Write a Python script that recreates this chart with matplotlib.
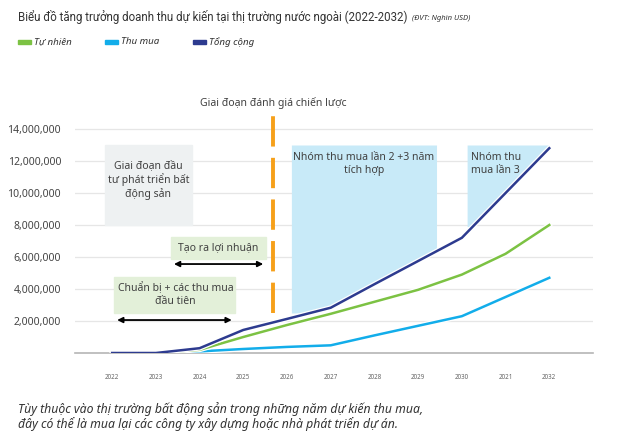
import matplotlib
matplotlib.use("Agg")
import matplotlib.pyplot as plt
import matplotlib.patheffects as pe
import numpy as np

plt.rcParams['font.family'] = ['Noto Sans', 'DejaVu Sans']

# du lieu (don vi: USD)
years = [2022, 2023, 2024, 2025, 2026, 2027, 2028, 2029, 2030, 2031, 2032]
year_labels = ['2022', '2023', '2024', '2025', '2026', '2027', '2028', '2029', '2030', '2021', '2032']
tu_nhien = [0, 0, 200000, 1000000, 1750000, 2450000, 3200000, 3950000, 4900000, 6200000, 8000000]
thu_mua_years = [2023, 2024, 2025, 2026, 2027, 2028, 2029, 2030, 2031, 2032]
thu_mua = [0, 100000, 250000, 380000, 480000, 1100000, 1700000, 2300000, 3500000, 4700000]
tong_cong = [0, 0, 300000, 1440000, 2130000, 2830000, 4300000, 5750000, 7200000, 10000000, 12800000]
y_ticks = [2000000, 4000000, 6000000, 8000000, 10000000, 12000000, 14000000]

GREEN = '#7cc243'
BLUE = '#12adea'
NAVY = '#2d3b8f'
ORANGE = '#f6a01a'
TXT = '#404040'

fig = plt.figure(figsize=(6.4, 4.38), dpi=100)
ax = fig.add_axes([75/640, 85/438, 518/640, 240/438])
ax.set_xlim(2021.15, 2033.0)
ax.set_ylim(0, 15000000)

# nen cac giai doan
ax.add_patch(plt.Rectangle((2021.84, 8000000), 1.98, 5000000, color='#eef1f2', zorder=1))
ax.text(2022.83, 10800000, 'Giai đoạn đầu\ntư phát triển bất\nđộng sản', ha='center', va='center',
        fontsize=7.5, color=TXT, linespacing=1.25, zorder=5)

ax.add_patch(plt.Rectangle((2023.35, 5900000), 2.17, 1350000, color='#e3f0d9', zorder=1))
ax.text(2024.43, 6600000, 'Tạo ra lợi nhuận', ha='center', va='center', fontsize=7.5, color=TXT, zorder=5)
ax.annotate('', xy=(2023.35, 5560000), xytext=(2025.52, 5560000),
            arrowprops=dict(arrowstyle='<|-|>', color='black', lw=1.3, mutation_scale=8), zorder=5)

ax.add_patch(plt.Rectangle((2022.05, 2500000), 2.75, 2250000, color='#e3f0d9', zorder=1))
ax.text(2023.45, 3650000, 'Chuẩn bị + các thu mua\nđầu tiên', ha='center', va='center',
        fontsize=7.5, color=TXT, linespacing=1.2, zorder=5)
ax.annotate('', xy=(2022.05, 2060000), xytext=(2024.8, 2060000),
            arrowprops=dict(arrowstyle='<|-|>', color='black', lw=1.3, mutation_scale=8), zorder=5)

# vung xanh duoi duong tong cong
xx = np.linspace(2026.1, 2029.42, 200)
ax.fill_between(xx, np.maximum(np.interp(xx, years, tong_cong), 2500000), 13000000,
                color='#c8eaf8', lw=0, zorder=1)
ax.text(2027.76, 11800000, 'Nhóm thu mua lần 2 +3 năm\ntích hợp', ha='center', va='center',
        fontsize=7.5, color=TXT, linespacing=1.25, zorder=5)
xx2 = np.linspace(2030.12, 2031.98, 200)
lo2 = np.maximum(np.interp(xx2, years, tong_cong), 7900000)
ax.fill_between(xx2, lo2, 13000000, where=lo2 < 13000000, color='#c8eaf8', lw=0, zorder=1)
ax.text(2030.22, 11800000, 'Nhóm thu\nmua lần 3', ha='left', va='center',
        fontsize=7.5, color=TXT, linespacing=1.25, zorder=5)

# duong danh gia chien luoc
ax.plot([2025.68, 2025.68], [2500000, 15000000], color=ORANGE, lw=2.8,
        dashes=(7.8, 2.9), clip_on=False, zorder=3)
ax.text(2025.68, 15250000, 'Giai đoạn đánh giá chiến lược', ha='center', va='bottom',
        fontsize=7.5, color=TXT)

# cac duong
halo = [pe.Stroke(linewidth=3.6, foreground='white'), pe.Normal()]
ax.plot(thu_mua_years, thu_mua, color=BLUE, lw=1.8, zorder=4, path_effects=halo)
ax.plot(years, tu_nhien, color=GREEN, lw=1.8, zorder=4, path_effects=halo)
ax.plot(years, tong_cong, color=NAVY, lw=1.8, zorder=4, path_effects=halo)

# truc
ax.set_yticks(y_ticks)
ax.set_yticklabels(['{:,}'.format(v) for v in y_ticks], fontsize=7.5, color='#444444')
ax.set_xticks(years)
ax.set_xticklabels(year_labels, fontsize=4.5, color='#666666')
ax.tick_params(axis='both', length=0)
ax.tick_params(axis='x', pad=15)
ax.tick_params(axis='y', pad=10)
ax.grid(axis='y', color='#e6e6e6', lw=0.9, zorder=0)
ax.set_axisbelow(True)
for s in ['top', 'right', 'left']:
    ax.spines[s].set_visible(False)
ax.spines['bottom'].set_color('#b5b5b5')
ax.spines['bottom'].set_linewidth(1.2)

# tieu de
title = fig.text(18/640, 1 - 17/438,
                 'Biểu đồ tăng trưởng doanh thu dự kiến tại thị trường nước ngoài (2022-2032)',
                 fontsize=8.3, family=['Roboto', 'DejaVu Sans'], color='#333333',
                 va='center', ha='left')
fig.canvas.draw()
bb = title.get_window_extent()
fig.text((bb.x1 + 4)/640, 1 - 18/438, '(ĐVT: Nghìn USD)', fontsize=5.5, style='italic',
         color='#333333', va='center', ha='left')

# chu giai
legend_items = [('Tự nhiên', GREEN, 18), ('Thu mua', BLUE, 105), ('Tổng cộng', NAVY, 193)]
for name, col, px in legend_items:
    fig.patches.append(plt.Rectangle((px/640, 1 - 43.5/438), 13/640, 3/438, color=col,
                                     transform=fig.transFigure, figure=fig))
    fig.text((px + 16)/640, 1 - 42/438, name, fontsize=7, style='italic',
             color='#333333', va='center', ha='left')

# ghi chu
fig.text(18/640, 1 - 409/438, 'Tùy thuộc vào thị trường bất động sản trong những năm dự kiến thu mua,',
         fontsize=8.8, style='italic', color='#333333', va='center')
fig.text(18/640, 1 - 424/438, 'đây có thể là mua lại các công ty xây dựng hoặc nhà phát triển dự án.',
         fontsize=8.8, style='italic', color='#333333', va='center')

fig.savefig('out.png', dpi=100)
